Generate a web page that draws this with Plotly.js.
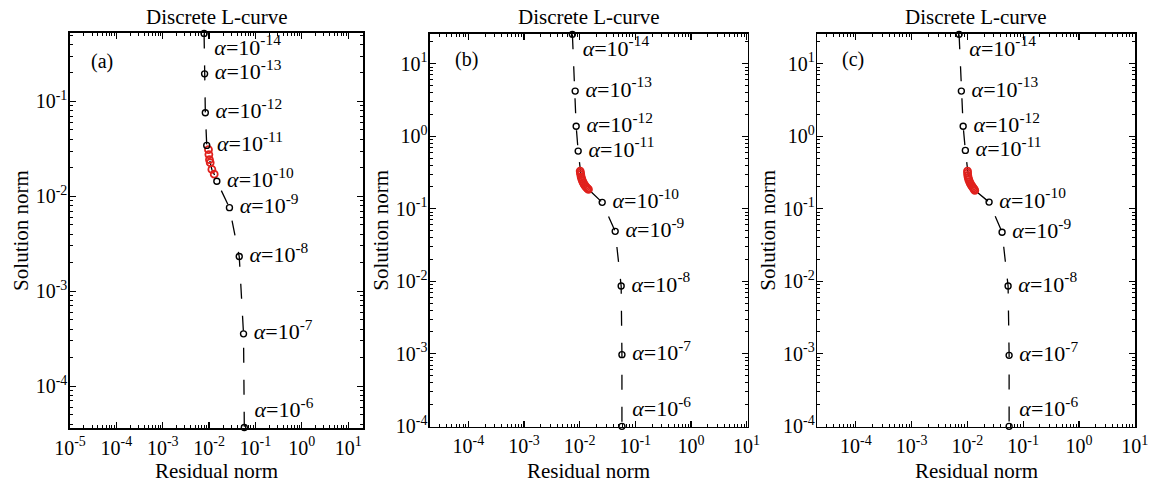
<!DOCTYPE html>
<html>
<head>
<meta charset="utf-8">
<script src="https://cdn.plot.ly/plotly-3.0.1.min.js"></script>
<style>html,body{margin:0;padding:0;background:#fff;}#chart{width:1151px;height:484px;}</style>
</head>
<body>
<div id="chart"></div>
<script>
// ---------- data ----------
var alphaExponents = [-14, -13, -12, -11, -10, -9, -8, -7, -6];

// panel (a)
var resA = [0.0078, 0.0080, 0.0083, 0.0089, 0.0147, 0.0275, 0.0447, 0.0553, 0.0575];
var solA = [0.52, 0.195, 0.076, 0.0344, 0.0144, 0.0076, 0.00232, 0.000356, 0.0000367];
var redResA = [0.0097, 0.0099, 0.0102, 0.01057, 0.01148, 0.0129];
var redSolA = [0.031, 0.0275, 0.0243, 0.0226, 0.0192, 0.0171];

// panel (b)
var resB = [0.0074, 0.0083, 0.00865, 0.0094, 0.0254, 0.0435, 0.0557, 0.0575, 0.0575];
var solB = [25.4, 4.19, 1.37, 0.624, 0.1225, 0.0488, 0.00859, 0.000973, 0.0001];
var redResB = [0.01021, 0.01033, 0.01047, 0.01064, 0.01091, 0.01122, 0.01161, 0.01205, 0.01256, 0.01309, 0.01375, 0.01439];
var redSolB = [0.3307, 0.3124, 0.2950, 0.2750, 0.2581, 0.2423, 0.2288, 0.2168, 0.2067, 0.1983, 0.1910, 0.1850];

// panel (c)
var resC = [0.0071, 0.0078, 0.0084, 0.0092, 0.0245, 0.0419, 0.0537, 0.0560, 0.0560];
var solC = [25.4, 4.19, 1.37, 0.638, 0.1236, 0.0474, 0.00859, 0.000953, 0.0001];
var redResC = [0.01005, 0.01009, 0.01017, 0.01034, 0.01059, 0.01091, 0.01128, 0.01175, 0.01225, 0.01276, 0.01318, 0.01358];
var redSolC = [0.3307, 0.3094, 0.2885, 0.2691, 0.2517, 0.2369, 0.2238, 0.2114, 0.2015, 0.1934, 0.1862, 0.1792];

var panelLetters = ['(a)', '(b)', '(c)'];
var panelTitle = 'Discrete L-curve';
var xTitle = 'Residual norm';
var yTitle = 'Solution norm';
var xTickExpA = [-5, -4, -3, -2, -1, 0, 1];
var yTickExpA = [-4, -3, -2, -1];
var xTickExpBC = [-4, -3, -2, -1, 0, 1];
var yTickExpBC = [-4, -3, -2, -1, 0, 1];

// ---------- helpers ----------
var FONT = '"Liberation Serif", "Times New Roman", serif';
function powLabel(e){ return '10<sup>' + e + '</sup>'; }
function tickVals(exps){ return exps.map(function(e){ return Math.pow(10, e); }); }
function minorVals(lo, hi){
  var v = [];
  for (var k = lo; k <= hi; k++) for (var d = 2; d <= 9; d++) v.push(d * Math.pow(10, k));
  return v;
}
var alphaText = alphaExponents.map(function(e){ return ' <i>\u03b1</i>=10<sup>' + e + '</sup>'; });
var textPos = alphaExponents.map(function(e, i){
  if (i === 0) return 'bottom right';
  if (i === alphaExponents.length - 1) return 'top right';
  return 'middle right';
});

function panelTraces(res, sol, rRes, rSol, xa, ya){
  var cx = res.slice(0, 4).concat(rRes, res.slice(4));
  var cy = sol.slice(0, 4).concat(rSol, sol.slice(4));
  return [
    {x: cx, y: cy, xaxis: xa, yaxis: ya, type: 'scatter', mode: 'lines',
     line: {color: '#000', width: 1.3, dash: '15px,17px'}, hoverinfo: 'skip', showlegend: false},
    {x: rRes, y: rSol, xaxis: xa, yaxis: ya, type: 'scatter', mode: 'markers',
     marker: {symbol: 'circle-open', size: 7, color: '#e0211d', line: {width: 1.8, color: '#e0211d'}},
     showlegend: false, cliponaxis: false},
    {x: res, y: sol, xaxis: xa, yaxis: ya, type: 'scatter', mode: 'markers+text',
     marker: {symbol: 'circle-open', size: 6, color: '#000', line: {width: 1.4, color: '#000'}},
     text: alphaText, textposition: textPos,
     textfont: {family: FONT, size: 22, color: '#000'},
     showlegend: false, cliponaxis: false}
  ];
}

var data = [].concat(
  panelTraces(resA, solA, redResA, redSolA, 'x', 'y'),
  panelTraces(resB, solB, redResB, redSolB, 'x2', 'y2'),
  panelTraces(resC, solC, redResC, redSolC, 'x3', 'y3')
);

function axisBase(){
  return {
    type: 'log', showline: true, linecolor: '#000', linewidth: 1.6, mirror: 'ticks',
    ticks: 'inside', ticklen: 6, tickwidth: 1.2, tickcolor: '#000',
    showgrid: false, zeroline: false, tickmode: 'array',
    tickfont: {family: FONT, size: 20, color: '#000'},
    minor: {ticks: 'inside', ticklen: 3, tickwidth: 1, tickcolor: '#000', tickmode: 'array', tickvals: minorVals(-6, 1)},
    automargin: false, fixedrange: true
  };
}
function xAxis(domain, range, exps, anchor){
  var a = axisBase();
  a.domain = domain; a.range = range; a.anchor = anchor;
  a.tickvals = tickVals(exps); a.ticktext = exps.map(powLabel);
  a.ticklabelstandoff = 1;
  return a;
}
function yAxis(domain, range, exps, anchor){
  var a = axisBase();
  a.domain = domain; a.range = range; a.anchor = anchor;
  a.tickvals = tickVals(exps); a.ticktext = exps.map(powLabel);
  a.ticklabelstandoff = -3;
  a.title = {text: yTitle, font: {family: FONT, size: 21, color: '#000'}, standoff: 1};
  return a;
}

var annotations = [];
[['x', 'y', 0.108, 0.927], ['x2', 'y2', 0.115, 0.934], ['x3', 'y3', 0.113, 0.934]].forEach(function(p, i){
  annotations.push({xref: p[0] + ' domain', yref: p[1] + ' domain', x: p[2], y: p[3],
    text: panelLetters[i], showarrow: false, xanchor: 'center', yanchor: 'middle',
    font: {family: FONT, size: 20, color: '#000'}});
  annotations.push({xref: p[0] + ' domain', yref: 'paper', x: 0.5, y: 0.965,
    text: panelTitle, showarrow: false, xanchor: 'center', yanchor: 'middle',
    font: {family: FONT, size: 21, color: '#000'}});
  annotations.push({xref: p[0] + ' domain', yref: 'paper', x: 0.5, y: 0.027,
    text: xTitle, showarrow: false, xanchor: 'center', yanchor: 'middle',
    font: {family: FONT, size: 21, color: '#000'}});
});

var layout = {
  width: 1151, height: 484,
  margin: {l: 0, r: 0, t: 0, b: 0},
  paper_bgcolor: '#fff', plot_bgcolor: '#fff',
  showlegend: false,
  xaxis: xAxis([0.0608, 0.3154], [-5, 1.32], xTickExpA, 'y'),
  yaxis: yAxis([0.1157, 0.9318], [-4.44, -0.28], yTickExpA, 'x'),
  xaxis2: xAxis([0.3736, 0.6496], [-4.69, 1.02], xTickExpBC, 'y2'),
  yaxis2: yAxis([0.1184, 0.9298], [-4.005, 1.41], yTickExpBC, 'x2'),
  xaxis3: xAxis([0.7101, 0.9861], [-4.69, 1.005], xTickExpBC, 'y3'),
  yaxis3: yAxis([0.1184, 0.9298], [-4.005, 1.41], yTickExpBC, 'x3'),
  annotations: annotations
};

Plotly.newPlot('chart', data, layout, {displayModeBar: false, staticPlot: true});
</script>
</body>
</html>
